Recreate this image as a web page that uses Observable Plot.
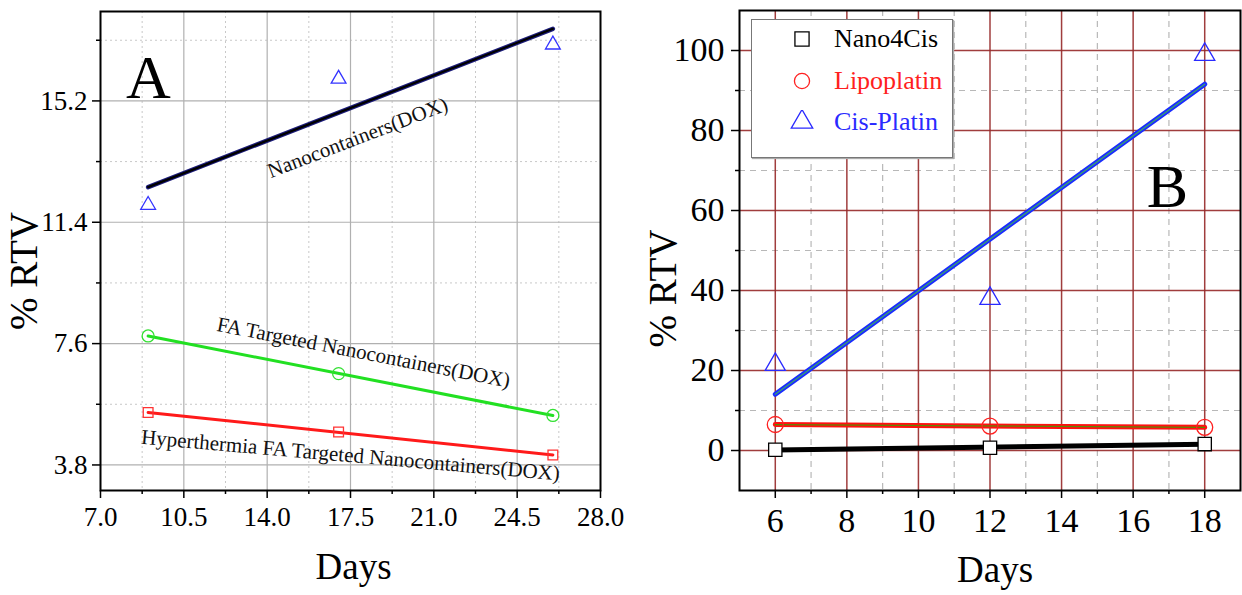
<!DOCTYPE html>
<html><head><meta charset="utf-8">
<script src="https://cdn.jsdelivr.net/npm/d3@7"></script>
<script src="https://cdn.jsdelivr.net/npm/@observablehq/plot@0.6"></script>
<style>
body{margin:0;background:#fff;}
#wrap{position:relative;width:1242px;height:595px;overflow:hidden;}
#a{position:absolute;left:0;top:0;}
#b{position:absolute;left:620px;top:0;}
#a svg text, #b svg text{font-family:"Liberation Serif" !important;}
#legend{position:absolute;left:751px;top:19px;width:200px;height:137px;border:1px solid #777;background:#fff;font-family:"Liberation Serif";font-size:26px;box-shadow:1px 1px 1px #aaa;}
#legend .row{position:absolute;left:0;height:30px;line-height:30px;}
#legend svg{position:absolute;left:38px;top:3px;}
#legend span{position:absolute;left:82px;top:0;white-space:nowrap;}
</style></head><body>
<div id="wrap"><div id="a"></div><div id="b"></div><div id="legend"></div></div>
<script>
// ---------- Panel A data ----------
const daysA = [9, 17, 26];
const nanoDOX = [11.94, 15.89, 16.96];
const faDOX = [7.84, 6.66, 5.35];
const hyperDOX = [5.44, 4.83, 4.11];
const ticksAX = [7, 10.5, 14, 17.5, 21, 24.5, 28];
const ticksAY = [3.8, 7.6, 11.4, 15.2];
const minorAX = [8.75, 12.25, 15.75, 19.25, 22.75, 26.25];
const minorAY = [5.7, 9.5, 13.3, 17.1];
const seriesLabelsA = ["Nanocontainers(DOX)", "FA Targeted Nanocontainers(DOX)", "Hyperthermia FA Targeted Nanocontainers(DOX)"];
const labelAnchorX = [17.8, 18.05, 17.5];
const labelAnchorY = [14.05, 7.32, 4.1];
const labelAngle = [-21, 11, 5];

// ---------- Panel B data ----------
const daysB = [6, 12, 18];
const nano4Cis = [0.2, 0.7, 1.6];
const lipoplatin = [6.5, 6.1, 5.8];
const cisPlatin = [21.5, 38, 99];
const seriesB = ["Nano4Cis", "Lipoplatin", "Cis-Platin"];
const ticksBX = [6, 8, 10, 12, 14, 16, 18];
const ticksBY = [0, 20, 40, 60, 80, 100];
const minorBX = [7, 9, 11, 13, 15, 17];
const minorBY = [10, 30, 50, 70, 90];

const font = "Liberation Serif";
const rowsA = daysA.map((d, i) => ({day: d, nano: nanoDOX[i], fa: faDOX[i], hyper: hyperDOX[i]}));
const labelsA = seriesLabelsA.map((t, i) => ({text: t, x: labelAnchorX[i], y: labelAnchorY[i], angle: labelAngle[i]}));
const rowsB = daysB.map((d, i) => ({day: d, nano: nano4Cis[i], lipo: lipoplatin[i], cis: cisPlatin[i]}));
const blank = () => "";
const ident = d => d;

const plotA = Plot.plot({
  width: 620, height: 595,
  marginLeft: 100, marginRight: 20, marginTop: 11, marginBottom: 105,
  x: {domain: [7, 28]},
  y: {domain: [3, 18]},
  style: {fontFamily: font, background: "transparent", overflow: "visible"},
  marks: [
    Plot.gridX(minorAX, {stroke: "#c8c8c8", strokeOpacity: 1, strokeDasharray: "2,3"}),
    Plot.gridY(minorAY, {stroke: "#c8c8c8", strokeOpacity: 1, strokeDasharray: "2,3"}),
    Plot.gridX(ticksAX.slice(1, -1), {stroke: "#b0b0b0", strokeOpacity: 1, strokeWidth: 1.2}),
    Plot.gridY(ticksAY, {stroke: "#b0b0b0", strokeOpacity: 1, strokeWidth: 1.2}),
    Plot.axisX(ticksAX, {tickSize: 8, tickPadding: 8, tickFormat: d3.format(".1f"), fontSize: 27, fontFamily: font, label: null, strokeWidth: 1.5}),
    Plot.axisX(minorAX, {tickSize: 4, tickFormat: blank, label: null, strokeWidth: 1.5}),
    Plot.axisY(ticksAY, {tickSize: 8, tickPadding: 5, tickFormat: d3.format(".1f"), fontSize: 27, fontFamily: font, label: null, strokeWidth: 1.5}),
    Plot.axisY(minorAY, {tickSize: 4, tickFormat: blank, label: null, strokeWidth: 1.5}),
    Plot.frame({stroke: "black", strokeWidth: 2}),
    Plot.linearRegressionY(rowsA, {x: "day", y: "nano", stroke: "#1c1c7a", strokeWidth: 4.5, ci: 0}),
    Plot.linearRegressionY(rowsA, {x: "day", y: "nano", stroke: "#000", strokeWidth: 2.2, ci: 0}),
    Plot.linearRegressionY(rowsA, {x: "day", y: "fa", stroke: "#22e022", strokeWidth: 3, ci: 0}),
    Plot.linearRegressionY(rowsA, {x: "day", y: "hyper", stroke: "#ff1a1a", strokeWidth: 3, ci: 0}),
    Plot.dot(rowsA, {x: "day", y: "nano", symbol: "triangle", r: 5.5, stroke: "#3333ff", strokeWidth: 1.3}),
    Plot.dot(rowsA, {x: "day", y: "fa", symbol: "circle", r: 6, stroke: "#33e033", strokeWidth: 1.3}),
    Plot.dot(rowsA, {x: "day", y: "hyper", symbol: "square", r: 5.5, stroke: "#ff3333", strokeWidth: 1.3}),
    Plot.text(labelsA, {x: "x", y: "y", text: "text", rotate: "angle", fontSize: 21, fill: "#111"}),
    Plot.text(["A"], {text: ident, frameAnchor: "top-left", textAnchor: "middle", lineAnchor: "middle", dx: 48, dy: 67, fontSize: 62}),
    Plot.text(["% RTV"], {text: ident, frameAnchor: "left", textAnchor: "middle", lineAnchor: "middle", dx: -76, dy: 20, rotate: -90, fontSize: 39}),
    Plot.text(["Days"], {text: ident, frameAnchor: "bottom", textAnchor: "middle", lineAnchor: "middle", dx: 3, dy: 77, fontSize: 37})
  ]
});
document.getElementById("a").append(plotA);

const plotB = Plot.plot({
  width: 622, height: 595,
  marginLeft: 119, marginRight: 2, marginTop: 10, marginBottom: 105,
  x: {domain: [5, 19]},
  y: {domain: [-10, 110]},
  style: {fontFamily: font, background: "transparent", overflow: "visible"},
  marks: [
    Plot.gridX(minorBX, {stroke: "#b8b8b8", strokeOpacity: 1, strokeDasharray: "6,5", strokeWidth: 1.2}),
    Plot.gridY(minorBY, {stroke: "#b8b8b8", strokeOpacity: 1, strokeDasharray: "6,5", strokeWidth: 1.2}),
    Plot.gridX(ticksBX, {stroke: "#962828", strokeOpacity: 0.9, strokeWidth: 1.5}),
    Plot.gridY(ticksBY, {stroke: "#962828", strokeOpacity: 0.9, strokeWidth: 1.5}),
    Plot.axisX(ticksBX, {tickSize: 8, tickPadding: 9, fontSize: 34, fontFamily: font, label: null, strokeWidth: 1.5}),
    Plot.axisX(minorBX, {tickSize: 4, tickFormat: blank, label: null, strokeWidth: 1.5}),
    Plot.axisY(ticksBY, {tickSize: 8, tickPadding: 7, fontSize: 34, fontFamily: font, label: null, strokeWidth: 1.5}),
    Plot.axisY(minorBY, {tickSize: 4, tickFormat: blank, label: null, strokeWidth: 1.5}),
    Plot.frame({stroke: "black", strokeWidth: 2}),
    Plot.linearRegressionY(rowsB, {x: "day", y: "cis", stroke: "#1a2cff", strokeWidth: 5, ci: 0}),
    Plot.linearRegressionY(rowsB, {x: "day", y: "cis", stroke: "#3aa070", strokeWidth: 1.3, ci: 0}),
    Plot.linearRegressionY(rowsB, {x: "day", y: "lipo", stroke: "#ff1010", strokeWidth: 5, ci: 0}),
    Plot.linearRegressionY(rowsB, {x: "day", y: "lipo", stroke: "#5a8a00", strokeWidth: 1.3, ci: 0}),
    Plot.linearRegressionY(rowsB, {x: "day", y: "nano", stroke: "#000", strokeWidth: 5, ci: 0}),
    Plot.dot(rowsB, {x: "day", y: "nano", symbol: "square", r: 7.5, stroke: "#000", fill: "#fff", strokeWidth: 1.3}),
    Plot.dot(rowsB, {x: "day", y: "lipo", symbol: "circle", r: 8, stroke: "#ff2020", strokeWidth: 1.3}),
    Plot.dot(rowsB, {x: "day", y: "cis", symbol: "triangle", r: 7.5, stroke: "#2a2aff", strokeWidth: 1.3}),
    Plot.text(["B"], {text: ident, frameAnchor: "top-left", textAnchor: "middle", lineAnchor: "middle", dx: 428, dy: 177, fontSize: 62}),
    Plot.text(["% RTV"], {text: ident, frameAnchor: "left", textAnchor: "middle", lineAnchor: "middle", dx: -76, dy: 38, rotate: -90, fontSize: 39}),
    Plot.text(["Days"], {text: ident, frameAnchor: "bottom", textAnchor: "middle", lineAnchor: "middle", dx: 5, dy: 80, fontSize: 37})
  ]
});
document.getElementById("b").append(plotB);

// ---------- legend ----------
const legendColors = ["#000", "#ff2020", "#2a2aff"];
const legendSymbols = [d3.symbolSquare, d3.symbolCircle, d3.symbolTriangle];
const legend = document.getElementById("legend");
seriesB.forEach((name, i) => {
  const row = document.createElement("div");
  row.className = "row";
  row.style.top = (19 + i * 41.5 - 15) + "px";
  row.style.width = "200px";
  const sym = d3.symbol(legendSymbols[i], i === 1 ? 180 : 200)();
  row.innerHTML = `<svg width="24" height="24" viewBox="-12 -12 24 24"><path d="${sym}" fill="none" stroke="${legendColors[i]}" stroke-width="1.3"/></svg><span style="color:${legendColors[i]}">${name}</span>`;
  legend.append(row);
});
</script>
</body></html>
